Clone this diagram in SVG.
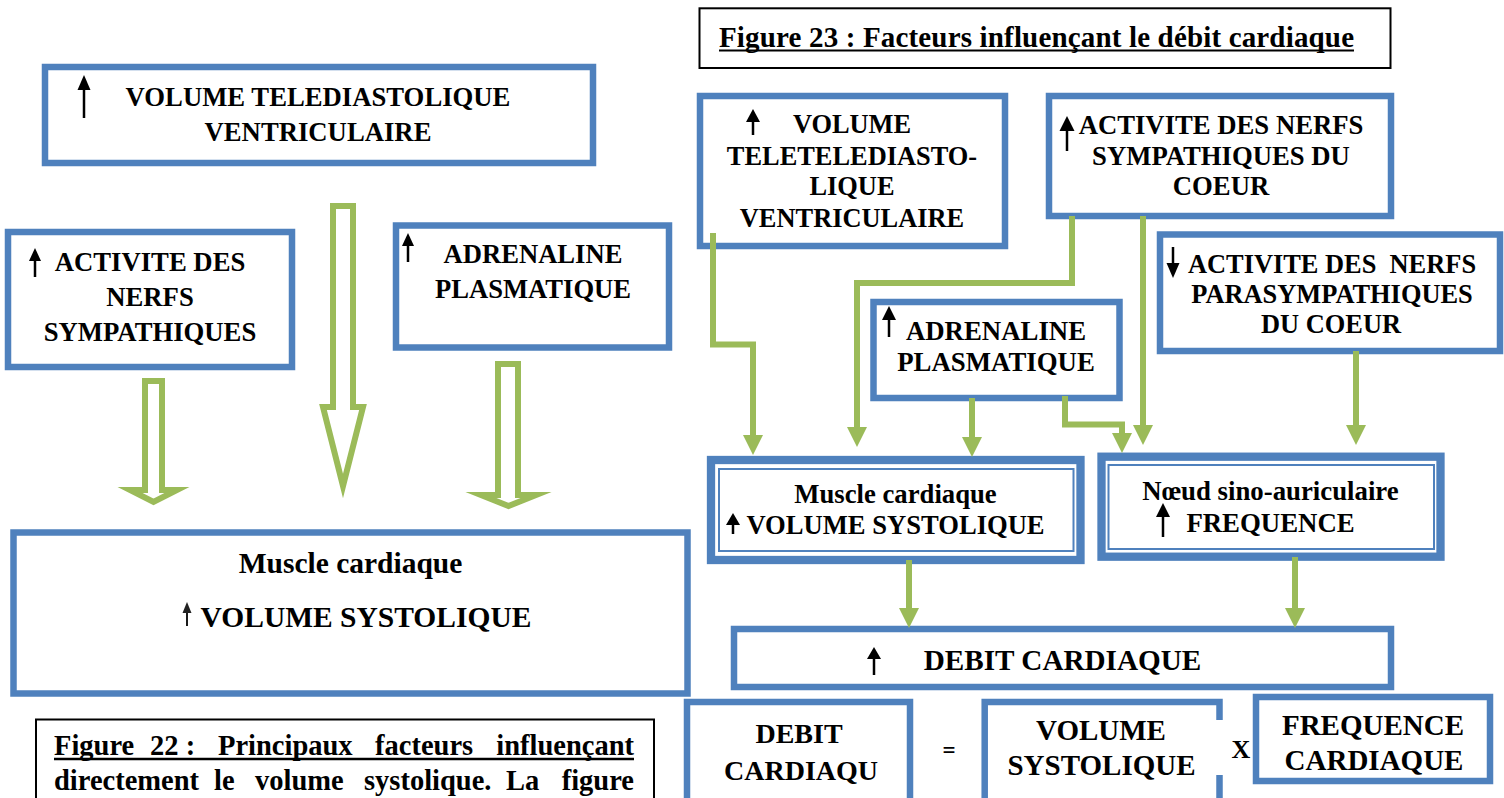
<svg xmlns="http://www.w3.org/2000/svg" width="1504" height="798" viewBox="0 0 1504 798">
<style>
.box{fill:#fff;stroke:#4F81BD;stroke-width:6.5}
.thin{fill:none;stroke:#4F81BD;stroke-width:2}
.cap{fill:#fff;stroke:#000;stroke-width:2}
.t{font-family:"Liberation Serif","Times New Roman",serif;font-weight:bold;fill:#000}
.m{text-anchor:middle}
.conn{fill:none;stroke:#9BBB59;stroke-width:6}
.hollow{fill:#fff;stroke:#9BBB59;stroke-width:6;stroke-linejoin:miter;stroke-miterlimit:10}
.ua line{stroke:#000;stroke-width:2.5}
.ua polygon{fill:#000}
</style>
<defs>
<marker id="gh" viewBox="0 -10 20 20" refX="0" refY="0" markerWidth="20" markerHeight="20" markerUnits="userSpaceOnUse" orient="auto">
<path d="M0,-10 L20,0 L0,10 Z" fill="#9BBB59"/>
</marker>
</defs>
<rect width="1504" height="798" fill="#fff"/>

<!-- LEFT FIGURE 22 -->
<g id="l-vtd">
<rect class="box" x="45" y="67" width="548" height="96"/>
<g class="ua"><line x1="84" y1="86" x2="84" y2="118"/><polygon points="84,75 77.5,90 90.5,90"/></g>
<text class="t m" x="318" y="106" font-size="26.7">VOLUME TELEDIASTOLIQUE</text>
<text class="t m" x="318" y="140.5" font-size="26.7">VENTRICULAIRE</text>
</g>
<g id="l-sym">
<rect class="box" x="8" y="232" width="284" height="135"/>
<g class="ua"><line x1="35" y1="258" x2="35" y2="277"/><polygon points="35,248 29,261 41,261"/></g>
<text class="t m" x="150" y="271" font-size="26.7">ACTIVITE DES</text>
<text class="t m" x="150" y="306" font-size="26.7">NERFS</text>
<text class="t m" x="150" y="341" font-size="26.7">SYMPATHIQUES</text>
</g>
<g id="l-adr">
<rect class="box" x="396" y="225.5" width="273" height="122"/>
<g class="ua"><line x1="408" y1="243" x2="408" y2="262"/><polygon points="408,233 402,246 414,246"/></g>
<text class="t m" x="533" y="263" font-size="26.6">ADRENALINE</text>
<text class="t m" x="533" y="298" font-size="26.6">PLASMATIQUE</text>
</g>
<g id="l-muscle">
<rect class="box" x="13.5" y="532.5" width="674" height="161"/>
<text class="t m" x="350.5" y="573" font-size="29.5">Muscle cardiaque</text>
<g class="ua"><line x1="187" y1="610" x2="187" y2="626" style="stroke-width:1.8"/><polygon points="187,602 182.5,613 191.5,613" style="fill:#222"/></g>
<text class="t m" x="366" y="627" font-size="29.5">VOLUME SYSTOLIQUE</text>
</g>
<g id="l-arrows">
<path class="hollow" d="M145,381 H162 V490 H177 L153.5,502 L130,490 H145 Z"/>
<path class="hollow" d="M333,206 H353 V407 H363 L343,486 L323,407 H333 Z"/>
<path class="hollow" d="M498,364 H518 V495 H536 L508.5,506 L481,495 H498 Z"/>
</g>
<g id="fig22">
<rect class="cap" x="36" y="719.5" width="618" height="100"/>
<text class="t" x="54" y="755" font-size="28.5">Figure</text>
<text class="t" x="150" y="755" font-size="28.5">22&#160;:</text>
<text class="t" x="218" y="755" font-size="28.5">Principaux</text>
<text class="t" x="375" y="755" font-size="28.5">facteurs</text>
<text class="t" x="634" y="755" font-size="28.5" text-anchor="end">influençant</text>
<line x1="54" y1="759" x2="634" y2="759" stroke="#000" stroke-width="2.5"/>
<text class="t" x="54" y="790" font-size="28.5">directement</text>
<text class="t" x="214" y="790" font-size="28.5">le</text>
<text class="t" x="255" y="790" font-size="28.5">volume</text>
<text class="t" x="364" y="790" font-size="28.5">systolique.</text>
<text class="t" x="506" y="790" font-size="28.5">La</text>
<text class="t" x="634" y="790" font-size="28.5" text-anchor="end">figure</text>
</g>

<!-- RIGHT FIGURE 23 -->
<g id="fig23">
<rect class="cap" x="699.5" y="8.3" width="691" height="59.7"/>
<text class="t" x="719" y="47" font-size="29" textLength="635" lengthAdjust="spacing">Figure 23 : Facteurs influençant le débit cardiaque</text>
<line x1="719" y1="50.5" x2="1354" y2="50.5" stroke="#000" stroke-width="2"/>
</g>
<g id="r-vtd">
<rect class="box" x="700" y="96" width="305" height="150"/>
<g class="ua"><line x1="753" y1="118" x2="753" y2="135"/><polygon points="753,109 746,122 760,122"/></g>
<text class="t m" x="852" y="133" font-size="26.4">VOLUME</text>
<text class="t m" x="852" y="165" font-size="26.4">TELETELEDIASTO-</text>
<text class="t m" x="852" y="195" font-size="26.4">LIQUE</text>
<text class="t m" x="852" y="227" font-size="26.4">VENTRICULAIRE</text>
</g>
<g id="r-sym">
<rect class="box" x="1049" y="96" width="342" height="120"/>
<g class="ua"><line x1="1067" y1="126" x2="1067" y2="151"/><polygon points="1067,116 1059.5,131 1074.5,131"/></g>
<text class="t m" x="1221" y="134" font-size="26.7">ACTIVITE DES NERFS</text>
<text class="t m" x="1221" y="165" font-size="26.7">SYMPATHIQUES DU</text>
<text class="t m" x="1221" y="195" font-size="26.7">COEUR</text>
</g>
<g id="r-para">
<rect class="box" x="1160" y="234.5" width="340" height="116.5"/>
<g class="ua"><line x1="1173" y1="247" x2="1173" y2="266"/><polygon points="1173,278 1166.5,263 1179.5,263"/></g>
<text class="t m" x="1332" y="273" font-size="26.4">ACTIVITE DES&#160; NERFS</text>
<text class="t m" x="1332" y="303" font-size="26.4">PARASYMPATHIQUES</text>
<text class="t m" x="1331" y="333" font-size="26.4">DU COEUR</text>
</g>
<g id="r-adr">
<rect class="box" x="873.5" y="302" width="246" height="96"/>
<g class="ua"><line x1="889" y1="316" x2="889" y2="337"/><polygon points="889,306 882,320 896,320"/></g>
<text class="t m" x="996" y="340" font-size="26.8">ADRENALINE</text>
<text class="t m" x="996" y="371" font-size="26.8">PLASMATIQUE</text>
</g>
<g id="r-muscle">
<rect class="box" x="711" y="460" width="369.5" height="100" style="stroke-width:8.3"/>
<rect class="thin" x="719" y="469" width="354.5" height="82"/>
<text class="t m" x="895.5" y="503" font-size="26.7">Muscle cardiaque</text>
<g class="ua"><line x1="733" y1="522" x2="733" y2="534"/><polygon points="733,513 726,525 740,525"/></g>
<text class="t m" x="895.5" y="534" font-size="26.6">VOLUME SYSTOLIQUE</text>
</g>
<g id="r-noeud">
<rect class="box" x="1101.5" y="456.7" width="339" height="100" style="stroke-width:8.3"/>
<rect class="thin" x="1108.5" y="465" width="325.5" height="84"/>
<text class="t m" x="1270.5" y="500" font-size="26.8">Nœud sino-auriculaire</text>
<g class="ua"><line x1="1163" y1="513" x2="1163" y2="537"/><polygon points="1163,503 1156,517 1170,517"/></g>
<text class="t m" x="1270.5" y="532" font-size="26.8">FREQUENCE</text>
</g>
<g id="r-debit">
<rect class="box" x="734" y="629" width="657" height="58"/>
<g class="ua"><line x1="874" y1="655" x2="874" y2="675"/><polygon points="874,647 867,659 881,659"/></g>
<text class="t m" x="1062.5" y="670" font-size="29.2">DEBIT CARDIAQUE</text>
</g>
<g id="eq-debit">
<rect class="box" x="687" y="702" width="223" height="130"/>
<text class="t m" x="799" y="743" font-size="28">DEBIT</text>
<text class="t m" x="801" y="780" font-size="28">CARDIAQU</text>
</g>
<g id="eq-sign">
<text class="t m" x="949" y="758" font-size="23">=</text>
</g>
<g id="eq-vs">
<rect class="box" x="984.7" y="702" width="234.8" height="130"/>
<rect x="1214" y="720" width="12" height="55" fill="#fff"/>
<text class="t m" x="1101" y="740" font-size="29">VOLUME</text>
<text class="t m" x="1101.5" y="775" font-size="29">SYSTOLIQUE</text>
</g>
<g id="eq-x">
<text class="t m" x="1241" y="758" font-size="26">X</text>
</g>
<g id="eq-freq">
<rect class="box" x="1256" y="697" width="234" height="84"/>
<text class="t m" x="1373" y="735" font-size="29">FREQUENCE</text>
<text class="t m" x="1374" y="770" font-size="29">CARDIAQUE</text>
</g>

<g id="connectors">
<path class="conn" marker-end="url(#gh)" d="M713,233 V344.5 H753 V435"/>
<path class="conn" marker-end="url(#gh)" d="M1072,216 V283 H857 V427"/>
<path class="conn" marker-end="url(#gh)" d="M1143,216 V425"/>
<path class="conn" marker-end="url(#gh)" d="M972,398 V437"/>
<path class="conn" marker-end="url(#gh)" d="M1065,396 V424.5 H1122 V433"/>
<path class="conn" marker-end="url(#gh)" d="M1356,351 V425"/>
<path class="conn" marker-end="url(#gh)" d="M909,560 V608"/>
<path class="conn" marker-end="url(#gh)" d="M1295,557 V608"/>
</g>
</svg>
